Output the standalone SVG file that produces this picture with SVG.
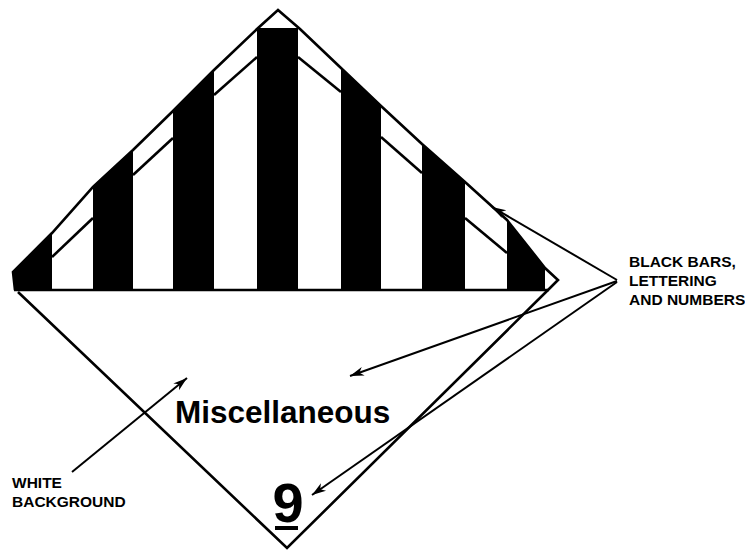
<svg xmlns="http://www.w3.org/2000/svg" width="745" height="552" viewBox="0 0 745 552">
<style>
.edge{fill:none;stroke:#000;stroke-width:2.6;stroke-linejoin:miter}
.inner{fill:none;stroke:#000;stroke-width:2.6}
.bar{fill:#000}
.arrow{fill:none;stroke:#000;stroke-width:2;marker-end:url(#ah)}
.lbl{font-family:"Liberation Sans",Arial,sans-serif;font-weight:bold;fill:#000}
</style>
<defs>
<marker id="ah" markerUnits="userSpaceOnUse" markerWidth="16" markerHeight="12" refX="14" refY="6" orient="auto" viewBox="0 0 16 12">
<path d="M0,1.5 L14,6 L0,10.5 L4,6 Z" fill="#000"/>
</marker>
<clipPath id="top">
<polygon points="15,290 13,272 52,233 93,187 133,150 173,111 214,70 257,29 278,10 300,29 341,68 381,106 422,144 465,182 507,220 545,268 558,280 548,290"/>
</clipPath>
</defs>
<rect width="745" height="552" fill="#fff"/>
<g id="placard">
<g id="bars" clip-path="url(#top)">
<rect class="bar" x="12" y="0" width="40" height="290"/>
<rect class="bar" x="93" y="0" width="40" height="290"/>
<rect class="bar" x="173" y="0" width="41" height="290"/>
<rect class="bar" x="257" y="28" width="41" height="262"/>
<rect class="bar" x="341" y="0" width="40" height="290"/>
<rect class="bar" x="422" y="0" width="43" height="290"/>
<rect class="bar" x="507" y="0" width="38" height="290"/>
</g>
<g id="inner-border">
<line class="inner" x1="52" y1="257" x2="93" y2="218"/>
<line class="inner" x1="133" y1="175" x2="173" y2="138"/>
<line class="inner" x1="214" y1="95" x2="257" y2="57"/>
<line class="inner" x1="298" y1="57" x2="341" y2="92"/>
<line class="inner" x1="381" y1="137" x2="422" y2="173"/>
<line class="inner" x1="465" y1="218" x2="507" y2="253"/>
</g>
<polyline class="edge" points="15,290 13,272 52,233 93,187 133,150 173,111 214,70 257,29 278,10 300,29 341,68 381,106 422,144 465,182 507,220 545,268 558,280 548,290"/>
<line class="edge" x1="14" y1="290" x2="549" y2="290"/>
<polyline class="edge" points="18,292 287,548 548,290"/>
</g>
<g id="texts">
<text class="lbl" x="175" y="423" font-size="31.5">Miscellaneous</text>
<text class="lbl" x="288" y="522" font-size="56" text-anchor="middle">9</text>
<rect x="275" y="526" width="23" height="4" fill="#000"/>
</g>
<g id="label-white">
<text class="lbl" x="12" y="488" font-size="15.5">WHITE</text>
<text class="lbl" x="12" y="507" font-size="15.5">BACKGROUND</text>
</g>
<g id="label-black">
<text class="lbl" x="629" y="267" font-size="15.5">BLACK BARS,</text>
<text class="lbl" x="629" y="286" font-size="15.5">LETTERING</text>
<text class="lbl" x="629" y="305" font-size="15.5">AND NUMBERS</text>
</g>
<g id="connectors">
<line class="arrow" x1="72" y1="472" x2="187" y2="378"/>
<line class="arrow" x1="617" y1="280" x2="492" y2="207"/>
<line class="arrow" x1="617" y1="281" x2="350" y2="376"/>
<line class="arrow" x1="617" y1="282" x2="312" y2="495"/>
</g>
</svg>
